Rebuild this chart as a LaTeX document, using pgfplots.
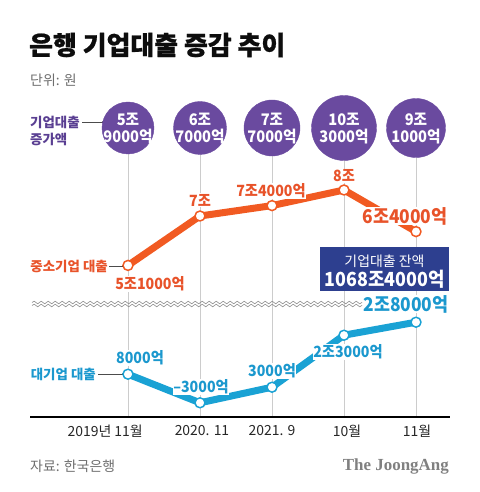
\documentclass[border=0pt]{standalone}
\usepackage{pgfplots}
\pgfplotsset{compat=1.18}
\usepackage{fontspec}
\setmainfont{Noto Sans CJK KR}
\newfontfamily\numfont[FakeStretch=0.92]{Noto Sans CJK KR}
\newfontfamily\titlefont[BoldFeatures={FakeBold=0.8}]{Noto Sans CJK KR}
\newfontfamily\logofont{Liberation Serif}
\usetikzlibrary{decorations.pathmorphing}
\definecolor{orng}{HTML}{F15A22}
\definecolor{orngtxt}{HTML}{E8532A}
\definecolor{blu}{HTML}{1AA2D4}
\definecolor{blutxt}{HTML}{1B98CE}
\definecolor{purp}{HTML}{6A4A9F}
\definecolor{purptxt}{HTML}{5A3F92}
\definecolor{navy}{HTML}{2D3F8F}
\definecolor{gridc}{HTML}{CCCCCC}
\definecolor{graytxt}{HTML}{6E6E6E}
\tikzset{lbl/.style={font=\numfont\fontsize{15.5}{15.5}\selectfont\bfseries, fill=white, inner sep=0.6bp},
  lblbig/.style={font=\numfont\fontsize{19}{19}\selectfont\bfseries, fill=white, inner sep=0.6bp},
  bub/.style={align=center, text=white, font=\numfont\fontsize{16}{17}\selectfont\bfseries, inner sep=0}}
\pgfplotstableread{
x y
0 5.1
1 7.0
2 7.4
3 8.0
4 6.4
}\smetable
\pgfplotstableread{
x y
0 0.8
1 -0.3
2 0.3
3 2.3
4 2.8
}\bigtable
\begin{document}
\begin{tikzpicture}
\begin{axis}[
  at={(0,0)}, anchor=south west,
  width=480bp, height=492bp, scale only axis,
  xmin=0, xmax=480, ymin=0, ymax=492, y dir=reverse,
  axis lines=none, clip=false, set layers,
]
% title
\node[anchor=west, font=\titlefont\fontsize{26}{26}\selectfont\bfseries, text=black!95, inner sep=0] at (axis cs:29,45) {은행 기업대출 증감 추이};
\node[anchor=west, font=\fontsize{14}{14}\selectfont, text=graytxt, inner sep=0] at (axis cs:30,80) {단위: 원};
% grid lines
\draw[gridc, line width=1bp] (axis cs:128,128) -- (axis cs:128,417);
\draw[gridc, line width=1bp] (axis cs:200,128) -- (axis cs:200,417);
\draw[gridc, line width=1bp] (axis cs:272,128) -- (axis cs:272,417);
\draw[gridc, line width=1bp] (axis cs:344,128) -- (axis cs:344,417);
\draw[gridc, line width=1bp] (axis cs:416,128) -- (axis cs:416,417);
% bubbles
\addplot[only marks, mark=*, mark size=26bp, purp, mark options={draw=none}] coordinates {(128,128)};
\addplot[only marks, mark=*, mark size=26.5bp, purp, mark options={draw=none}] coordinates {(200,128)};
\addplot[only marks, mark=*, mark size=28bp, purp, mark options={draw=none}] coordinates {(272,128)};
\addplot[only marks, mark=*, mark size=32.5bp, purp, mark options={draw=none}] coordinates {(344,128)};
\addplot[only marks, mark=*, mark size=29.5bp, purp, mark options={draw=none}] coordinates {(416,128)};
\begin{pgfonlayer}{axis foreground}
\node[bub] at (axis cs:128,128.5) {5조\\9000억};
\node[bub] at (axis cs:200,128.5) {6조\\7000억};
\node[bub] at (axis cs:272,128.5) {7조\\7000억};
\node[bub] at (axis cs:344,128.5) {10조\\3000억};
\node[bub] at (axis cs:416,128.5) {9조\\1000억};
\end{pgfonlayer}
\node[anchor=west, align=left, text=purptxt, font=\fontsize{13.5}{18}\selectfont\bfseries, inner sep=0] at (axis cs:30,131) {기업대출\\증가액};
\draw[black!70, line width=0.8bp] (axis cs:82,122) -- (axis cs:104,122);
\fill[black] (axis cs:104,122) circle (1.8bp);
% wavy break
\draw[black!45, line width=0.6bp, decorate, decoration={snake, amplitude=1.3bp, segment length=7bp}] (axis cs:32,302.5) -- (axis cs:362,302.5);
\draw[black!45, line width=0.6bp, decorate, decoration={snake, amplitude=1.3bp, segment length=7bp}] (axis cs:32,305.5) -- (axis cs:362,305.5);
% axis line
\draw[black, line width=1.3bp] (axis cs:30,417) -- (axis cs:450,417);
% series
\addplot[orng, line width=7bp, line join=round, x filter/.expression={128+72*x}, y filter/.expression={398-26*y},
  mark=*, mark size=5bp, mark options={fill=white, draw=orng, line width=1.5bp}] table {\smetable};
\addplot[blu, line width=7bp, line join=round, x filter/.expression={128+72*x}, y filter/.expression={395-26*y},
  mark=*, mark size=5bp, mark options={fill=white, draw=blu, line width=1.5bp}] table {\bigtable};
% series name labels
\node[anchor=east, text=orngtxt, font=\fontsize{13.5}{13.5}\selectfont\bfseries, inner sep=0] at (axis cs:108,266) {중소기업 대출};
\draw[black!70, line width=0.8bp] (axis cs:109,266) -- (axis cs:124,266);
\fill[black] (axis cs:124,266) circle (1.8bp);
\node[anchor=east, text=blutxt, font=\fontsize{13.5}{13.5}\selectfont\bfseries, inner sep=0] at (axis cs:96,374) {대기업 대출};
\draw[black!70, line width=0.8bp] (axis cs:98,374) -- (axis cs:124,374);
\fill[black] (axis cs:124,374) circle (1.8bp);
% value labels orange
\node[lbl, text=orngtxt] at (axis cs:150,284) {5조1000억};
\node[lbl, text=orngtxt] at (axis cs:200,200) {7조};
\node[lbl, text=orngtxt] at (axis cs:271,191) {7조4000억};
\node[lbl, text=orngtxt] at (axis cs:344,176) {8조};
\node[lblbig, text=orngtxt] at (axis cs:405,216) {6조4000억};
% value labels blue
\node[lbl, text=blutxt] at (axis cs:140,358) {8000억};
\node[lbl, text=blutxt] at (axis cs:201,387) {–3000억};
\node[lbl, text=blutxt] at (axis cs:272,371) {3000억};
\node[lbl, text=blutxt] at (axis cs:348,352) {2조3000억};
\node[lblbig, text=blutxt] at (axis cs:406,304) {2조8000억};
% box
\fill[navy] (axis cs:320,247) rectangle (axis cs:449,291);
\node[text=white, font=\fontsize{14}{14}\selectfont, inner sep=0] at (axis cs:384.5,261) {기업대출 잔액};
\node[text=white, font=\numfont\fontsize{19.5}{19.5}\selectfont\bfseries, inner sep=0] at (axis cs:384.5,279) {1068조4000억};
% x labels
\node[anchor=east, font=\fontsize{14}{14}\selectfont, text=black!85, inner sep=0] at (axis cs:143,431) {2019년 11월};
\node[font=\fontsize{14}{14}\selectfont, text=black!85, inner sep=0] at (axis cs:202,431) {2020. 11};
\node[font=\fontsize{14}{14}\selectfont, text=black!85, inner sep=0] at (axis cs:272,431) {2021. 9};
\node[font=\fontsize{14}{14}\selectfont, text=black!85, inner sep=0] at (axis cs:347,431) {10월};
\node[font=\fontsize{14}{14}\selectfont, text=black!85, inner sep=0] at (axis cs:417,431) {11월};
% footer
\node[anchor=west, font=\fontsize{14}{14}\selectfont, text=graytxt, inner sep=0] at (axis cs:30,466) {자료: 한국은행};
\node[anchor=east, font=\fontsize{17}{17}\selectfont\logofont\bfseries, text=black!50, inner sep=0] at (axis cs:449,466) {The JoongAng};
\end{axis}
\pgfresetboundingbox
\path[use as bounding box] (0,0) rectangle (480bp,492bp);
\end{tikzpicture}
\end{document}
